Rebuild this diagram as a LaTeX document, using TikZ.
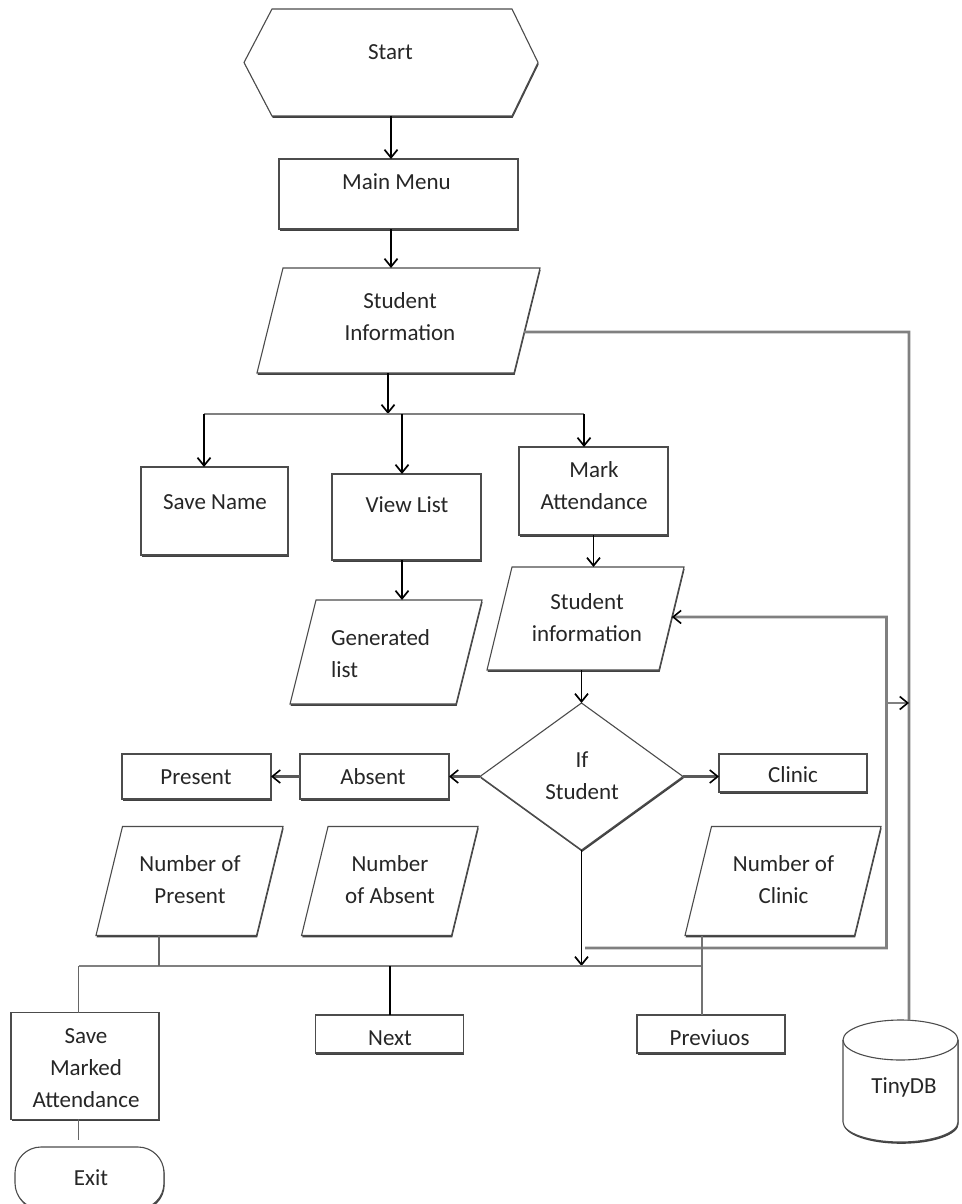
\documentclass[tikz,border=0pt]{standalone}
\usepackage{fontspec}
\setmainfont{Carlito}
\usetikzlibrary{arrows.meta,shapes.geometric,shadows,calc}
\begin{document}
\begin{tikzpicture}[x=1pt,y=-1pt,
  txt/.style={font=\fontsize{23}{32}\selectfont, text=black!85, inner sep=0pt, align=center},
  shd/.style={drop shadow={shadow xshift=0.7pt, shadow yshift=-1.8pt, fill=black!75, opacity=1}},
  outline/.style={draw=black!70, line width=1.1pt, fill=white, shd},
  box/.style={outline, rectangle, inner sep=0pt, outer sep=0pt},
  frame/.style={rectangle, inner sep=0pt, outer sep=0pt},
  arr/.style={draw=black, line width=1.8pt, -{Straight Barb[length=8pt,width=13pt,line width=1.7pt]}},
  blk/.style={draw=black, line width=1.8pt},
  gline/.style={draw=black!50, line width=2.8pt},
  garr/.style={gline, -{Straight Barb[length=8pt,width=13pt,line width=1.6pt,color=black]}},
  harr/.style={draw=black!65, line width=2.6pt, -{Straight Barb[length=8pt,width=13pt,line width=1.6pt,color=black]}},
  thn/.style={draw=black!60, line width=1.1pt}
]
\newcommand\parashape[2]{\path[outline] ([xshift=#2]#1.north west) -- (#1.north east)
  -- ([xshift=-#2]#1.south east) -- (#1.south west) -- cycle;}
\useasboundingbox (0,0) rectangle (961,1204);
\fill[white] (0,0) rectangle (961,1204);
\clip (0,0) rectangle (961,1204);

% ---------- shapes ----------
\node[frame, minimum width=294pt, minimum height=107pt] (start) at (391,62.5) {};
\path[outline] (start.west) -- ([xshift=28pt]start.north west) -- ([xshift=-26pt]start.north east)
  -- (start.east) -- ([xshift=-26pt]start.south east) -- ([xshift=28pt]start.south west) -- cycle;
\node[txt] (tstart) at (390.5,52) {Start};

\node[box, minimum width=239pt, minimum height=70pt] (main) at (398.5,194) {};
\node[txt] (tmain) at (396.5,181.5) {Main Menu};

\node[frame, minimum width=283pt, minimum height=105pt] (info1) at (398.5,320.5) {};
\parashape{info1}{26pt}
\node[txt] (tinfo1) at (400,316.5) {Student\\Information};

\node[box, minimum width=147pt, minimum height=88pt] (savename) at (214.5,511) {};
\node[txt] (tsavename) at (215,502) {Save Name};

\node[box, minimum width=149pt, minimum height=86pt] (viewlist) at (406.5,517) {};
\node[txt] (tviewlist) at (407,505) {View List};

\node[box, minimum width=149pt, minimum height=88pt] (mark) at (593.5,491) {};
\node[txt] (tmark) at (594,486) {Mark\\Attendance};

\node[frame, minimum width=192pt, minimum height=104pt] (genlist) at (386,652) {};
\parashape{genlist}{26pt}
\node[txt, align=left, anchor=west] (tgenlist) at (331,654) {Generated\\list};

\node[frame, minimum width=197pt, minimum height=103pt] (info2) at (585.5,618.5) {};
\parashape{info2}{25pt}
\node[txt] (tinfo2) at (587,618) {Student\\information};

\node[outline, diamond, minimum width=203pt, minimum height=147pt, inner sep=0pt, outer sep=0pt] (diamond) at (581.5,776.5) {};
\node[txt] (tdiamond) at (582,775.5) {If\\Student};

\node[box, minimum width=149pt, minimum height=45pt] (absent) at (374.5,776.5) {};
\node[txt] (tabsent) at (373,777) {Absent};

\node[box, minimum width=149pt, minimum height=45pt] (present) at (196.5,776.5) {};
\node[txt] (tpresent) at (196,777) {Present};

\node[box, minimum width=148pt, minimum height=38pt] (clinic) at (793,773) {};
\node[txt] (tclinic) at (793,775) {Clinic};

\node[frame, minimum width=187pt, minimum height=109pt] (numpres) at (189.5,881) {};
\parashape{numpres}{26.5pt}
\node[txt] (tnumpres) at (190,880) {Number of\\Present};

\node[frame, minimum width=176.5pt, minimum height=109pt] (numabs) at (389.8,881) {};
\parashape{numabs}{26.5pt}
\node[txt] (tnumabs) at (390,880) {Number\\of Absent};

\node[frame, minimum width=196pt, minimum height=109pt] (numclin) at (783,881) {};
\parashape{numclin}{26.5pt}
\node[txt] (tnumclin) at (783.5,880) {Number of\\Clinic};

\node[box, minimum width=148pt, minimum height=106.6pt] (savemarked) at (85,1066) {};
\node[txt] (tsavemarked) at (86,1068) {Save\\Marked\\Attendance};

\node[box, minimum width=148pt, minimum height=38pt] (next) at (389.7,1034) {};
\node[txt] (tnext) at (390,1038) {Next};

\node[box, minimum width=148pt, minimum height=38pt] (prev) at (711,1034) {};
\node[txt] (tprev) at (709.6,1038) {Previuos};

\node[outline, rectangle, rounded corners=26pt, minimum width=149pt, minimum height=62pt, inner sep=0pt, outer sep=0pt] (exit) at (89.5,1178) {};
\node[txt] (texit) at (91,1178) {Exit};

% TinyDB cylinder
\path[outline] (843,1040) -- (843,1122) arc[start angle=180, end angle=0, x radius=57.5, y radius=20]
  -- (958,1040) arc[start angle=0, end angle=-180, x radius=57.5, y radius=20] -- cycle;
\draw[draw=black!70, line width=1.1pt] (843,1040) arc[start angle=180, end angle=0, x radius=57.5, y radius=20];
\node[txt] (tinydb) at (904,1087) {TinyDB};
\coordinate (dbtop) at (909,1020.5);

% ---------- connectors ----------
\draw[arr] (start.south) -- (start.south |- main.north);
\draw[arr] (main.south -| start.south) -- (start.south |- info1.north);

\coordinate (j1) at (388,414);
\coordinate (b1L) at (204,414);
\coordinate (b1M) at (402,414);
\coordinate (b1R) at (584,414);
\draw[arr] (j1 |- info1.south) -- (j1);
\draw[gline] (b1L) -- (b1R);
\draw[arr] (b1L) -- (b1L |- savename.north);
\draw[arr] (b1M) -- (b1M |- viewlist.north);
\draw[arr] (b1R) -- (b1R |- mark.north);

\draw[arr] (b1M |- viewlist.south) -- (b1M |- genlist.north);
\draw[arr] (mark.south) -- (mark.south |- info2.north);
\draw[arr] (diamond.north |- info2.south) -- (diamond.north);

\draw[harr] (diamond.west) -- (diamond.west -| absent.east);
\draw[harr] (absent.west) -- (absent.west -| present.east);
\draw[harr] (diamond.east) -- (diamond.east -| clinic.west);

% outer line to TinyDB
\coordinate (o1) at (909,332);
\draw[gline] ($(info1.north east)!0.61!([xshift=-26pt]info1.south east)$) -- (o1) -- (dbtop);

% inner loop back to Student information
\coordinate (lp1) at (585,948);
\coordinate (lp2) at (886.5,948);
\coordinate (lp3) at (886.5,617);
\draw[garr] (lp1) -- (lp2) -- (lp3) -- ($(info2.north east)!0.485!([xshift=-25pt]info2.south east)$);
\draw[garr] (lp2 |- diamond.north) -- (o1 |- diamond.north);

% bottom bus
\coordinate (b2L) at (78.5,966);
\coordinate (b2R) at (701.5,966);
\coordinate (b2D) at (581.5,966);
\coordinate (np) at (159,966);
\draw[arr] (diamond.south) -- (b2D);
\draw[gline] (b2L) -- (b2R);
\draw[thn] (np |- numpres.south) -- (np);
\draw[blk] (next.north |- b2L) -- (next.north);
\draw[draw=black!55, line width=2pt] (b2R |- numclin.south) -- (b2R |- prev.north);
\draw[thn] (b2L) -- (b2L |- savemarked.north);
\draw[thn, shorten >=7pt] (b2L |- savemarked.south) -- (b2L |- exit.north);
\end{tikzpicture}
\end{document}
